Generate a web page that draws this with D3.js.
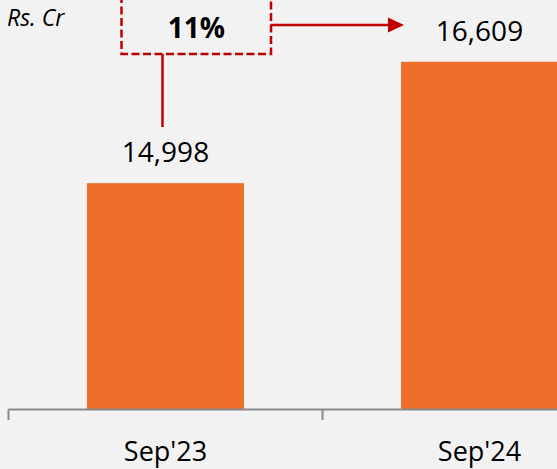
<!DOCTYPE html>
<html>
<head>
<meta charset="utf-8">
<script src="https://cdn.jsdelivr.net/npm/d3@7"></script>
<style>
  html, body { margin: 0; padding: 0; background: #f2f2f2; }
  svg { display: block; font-family: "Open Sans", sans-serif; }
</style>
</head>
<body>
<div id="chart"></div>
<script>
// data
var categories = ["Sep'23", "Sep'24"];
var values = [14998, 16609];
var valueLabels = ["14,998", "16,609"];
var unitLabel = "Rs. Cr";
var growthLabel = "11%";

var width = 557, height = 469;
var red = "#c00000";

var svg = d3.select('#chart').append('svg')
  .attr('width', width)
  .attr('height', height);

svg.append('rect').attr('width', width).attr('height', height).attr('fill', '#f2f2f2');

// axis starts at 12,000, not zero
var x = d3.scaleBand().domain(categories).range([8.5, 636.5])
  .paddingInner(0.5).paddingOuter(0.25);
var y = d3.scaleLinear().domain([12000, 18000]).range([409, -43]);

svg.selectAll('rect.bar')
  .data(values)
  .enter().append('rect')
  .attr('class', 'bar')
  .attr('x', function(d, i){ return x(categories[i]); })
  .attr('width', x.bandwidth())
  .attr('y', function(d){ return y(d); })
  .attr('height', function(d){ return y(12000) - y(d); })
  .attr('fill', '#ed6f2a');

// value labels
svg.selectAll('text.val')
  .data(values)
  .enter().append('text')
  .attr('class', 'val')
  .attr('x', function(d, i){ return x(categories[i]) + x.bandwidth() / 2; })
  .attr('y', function(d){ return y(d) - 21; })
  .attr('text-anchor', 'middle')
  .attr('font-size', 28)
  .attr('fill', '#000')
  .text(function(d, i){ return valueLabels[i]; });

// x axis: line plus ticks at band edges
var axisY = 409.5;
svg.append('line')
  .attr('x1', 8.5).attr('x2', width)
  .attr('y1', axisY).attr('y2', axisY)
  .attr('stroke', '#898989').attr('stroke-width', 2);

var step = x.step();
var tickXs = [8.5, 8.5 + step, 8.5 + 2 * step];
svg.selectAll('line.tick')
  .data(tickXs)
  .enter().append('line')
  .attr('class', 'tick')
  .attr('x1', function(d){ return d; }).attr('x2', function(d){ return d; })
  .attr('y1', axisY).attr('y2', 420)
  .attr('stroke', '#898989').attr('stroke-width', 2);

svg.selectAll('text.cat')
  .data(categories)
  .enter().append('text')
  .attr('class', 'cat')
  .attr('x', function(d){ return x(d) + x.bandwidth() / 2; })
  .attr('y', 461)
  .attr('text-anchor', 'middle')
  .attr('font-size', 27)
  .attr('fill', '#000')
  .text(function(d){ return d; });

// unit label
svg.append('text')
  .attr('x', 7).attr('y', 26)
  .attr('font-size', 23)
  .attr('font-style', 'italic')
  .attr('fill', '#000')
  .text(unitLabel);

// growth callout
var boxL = 121.5, boxR = 271, boxB = 54;
svg.append('path')
  .attr('d', 'M' + boxL + ',-5 V' + boxB + ' H' + boxR + ' V-5')
  .attr('fill', 'none')
  .attr('stroke', red)
  .attr('stroke-width', 2.5)
  .attr('stroke-dasharray', '8,3.5');

svg.append('text')
  .attr('x', (boxL + boxR) / 2).attr('y', 37.5)
  .attr('text-anchor', 'middle')
  .attr('font-size', 28)
  .attr('font-weight', 'bold')
  .attr('fill', '#000')
  .text(growthLabel);

// connector from first bar label up to box
var cx = 162.5;
svg.append('line')
  .attr('x1', cx).attr('x2', cx)
  .attr('y1', boxB).attr('y2', 127)
  .attr('stroke', red).attr('stroke-width', 2.5);

// arrow to second bar label
var ay = 25;
svg.append('line')
  .attr('x1', boxR).attr('x2', 390)
  .attr('y1', ay).attr('y2', ay)
  .attr('stroke', red).attr('stroke-width', 2.5);
svg.append('path')
  .attr('d', 'M388,' + (ay - 7.5) + ' L404,' + ay + ' L388,' + (ay + 7.5) + ' Z')
  .attr('fill', red);
</script>
</body>
</html>
